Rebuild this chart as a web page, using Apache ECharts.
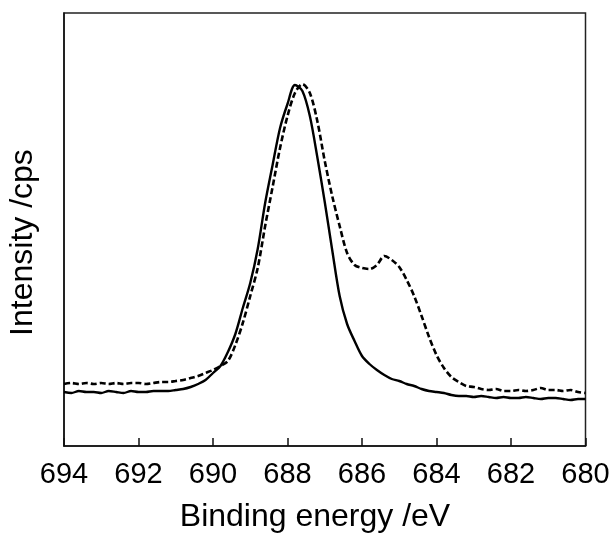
<!DOCTYPE html>
<html>
<head>
<meta charset="utf-8">
<script src="https://cdn.jsdelivr.net/npm/echarts@6/dist/echarts.min.js"></script>
<style>html,body{margin:0;padding:0;background:#fff}#c{width:613px;height:533px}</style>
</head>
<body>
<div id="c"></div>
<script>
// Binding energy (eV), 0.2 eV steps from 694 to 680
var energies = [694.0,693.8,693.6,693.4,693.2,693.0,692.8,692.6,692.4,692.2,692.0,691.8,691.6,691.4,691.2,691.0,690.8,690.6,690.4,690.2,690.0,689.8,689.6,689.4,689.2,689.0,688.8,688.6,688.4,688.2,688.0,687.8,687.6,687.4,687.2,687.0,686.8,686.6,686.4,686.2,686.0,685.8,685.6,685.4,685.2,685.0,684.8,684.6,684.4,684.2,684.0,683.8,683.6,683.4,683.2,683.0,682.8,682.6,682.4,682.2,682.0,681.8,681.6,681.4,681.2,681.0,680.8,680.6,680.4,680.2,680.0];
// Intensity (arbitrary units) — solid curve
var solidVals = [54,53,55,54,54,53,55,54,53,55,54,54,55,55,55,56,57,59,62,66,73,80,94,112,138,163,197,243,281,318,342,361,355,330,289,244,196,150,122,105,90,82,76,71,67,65,62,60,57,55,54,53,51,50,50,49,50,49,48,49,48,48,49,48,47,48,48,47,46,47,47];
// Intensity (arbitrary units) — dashed curve
var dashedVals = [62,63,62,63,62,63,62,63,62,63,63,62,63,64,64,65,66,68,70,73,76,80,85,101,123,150,178,220,259,298,330,353,362,353,325,285,250,220,193,181,178,177,181,190,186,179,166,150,130,109,91,78,69,64,60,59,57,56,57,55,55,56,55,56,58,56,56,55,56,54,53];

function pairs(v){ return energies.map(function(e,i){ return [e, v[i]]; }); }

var FONT = 'Liberation Sans, Arial, sans-serif';
var chart = echarts.init(document.getElementById('c'), null, {renderer:'canvas'});
chart.setOption({
  animation: false,
  backgroundColor: '#fff',
  grid: { left: 64, right: 27.5, top: 13, bottom: 87, show: true, borderColor: '#222', borderWidth: 1.5, containLabel: false },
  xAxis: {
    type: 'value', min: 680, max: 694, interval: 2, inverse: true,
    axisLine: { show: true, lineStyle: { color: '#111', width: 1.5 } },
    axisTick: { show: true, inside: true, length: 8, lineStyle: { color: '#111', width: 1.5 } },
    axisLabel: { color: '#000', fontSize: 29, fontFamily: FONT, margin: 14 },
    splitLine: { show: false }
  },
  yAxis: {
    type: 'value', min: 0, max: 433,
    axisLine: { show: true, lineStyle: { color: '#111', width: 1.5 } },
    axisTick: { show: false }, axisLabel: { show: false }, splitLine: { show: false }
  },
  series: [
    { type: 'line', data: pairs(dashedVals), showSymbol: false, smooth: 0.3,
      lineStyle: { color: '#000', width: 2.6, type: [6, 3] } },
    { type: 'line', data: pairs(solidVals), showSymbol: false, smooth: 0.3,
      lineStyle: { color: '#000', width: 2.4 } }
  ],
  graphic: [
    { type: 'text', x: 315, y: 517, style: { text: 'Binding energy /eV', fontSize: 32, fontFamily: FONT, fill: '#000', textAlign: 'center', textVerticalAlign: 'middle' } },
    { type: 'text', x: 23, y: 242.5, rotation: Math.PI / 2, style: { text: 'Intensity /cps', fontSize: 32, fontFamily: FONT, fill: '#000', textAlign: 'center', textVerticalAlign: 'middle' } }
  ]
});
</script>
</body>
</html>
